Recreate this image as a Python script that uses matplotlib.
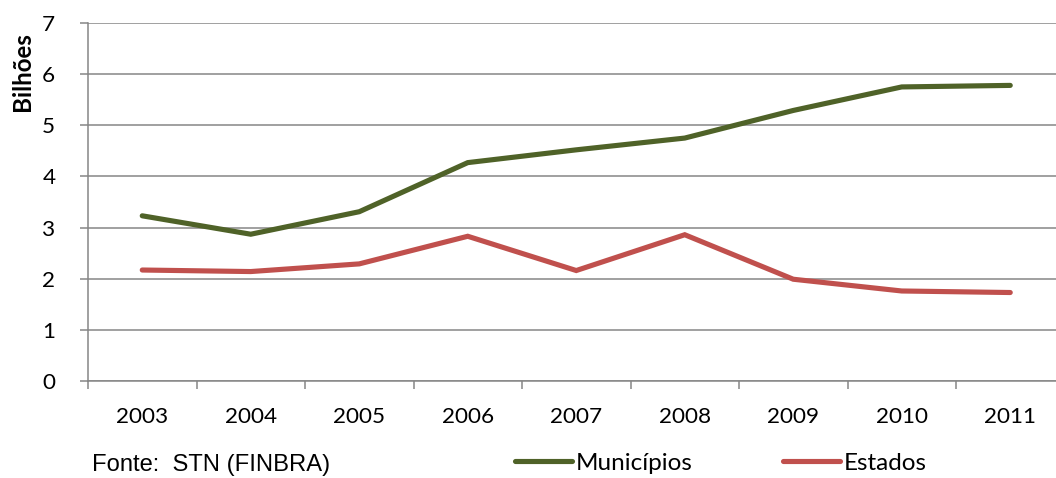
import matplotlib
matplotlib.use("Agg")
import matplotlib.pyplot as plt

# Valores em bilhões
anos = ["2003", "2004", "2005", "2006", "2007", "2008", "2009", "2010", "2011"]
municipios = [3.23, 2.87, 3.31, 4.27, 4.52, 4.75, 5.29, 5.75, 5.78]
estados = [2.17, 2.14, 2.29, 2.83, 2.16, 2.86, 1.99, 1.76, 1.73]

cor_mun = "#4F6228"
cor_est = "#C0504D"
cor_eixo = "#868686"

plt.rcParams['font.family'] = ['Lato', 'DejaVu Sans']

fig = plt.figure(figsize=(10.56, 4.78), dpi=100)
renderer = fig.canvas.get_renderer()


def fit_size(s, largura_px, **kw):
    """Tamanho de fonte para que o texto ocupe largura_px pixels."""
    t = fig.text(0, 0, s, fontsize=20, **kw)
    w = t.get_window_extent(renderer).width
    t.remove()
    return 20 * largura_px / w


tam_ticks = fit_size("2003", 52)
tam_leg = fit_size("Municípios", 117)
tam_ylabel = fit_size("Bilhões", 79, fontweight='bold')
tam_fonte = fit_size("Fonte:  STN (FINBRA)", 237, family='Liberation Sans')

ax = fig.add_axes([88 / 1056, 1 - 381 / 478, 976.5 / 1056, 358 / 478])

x = list(range(len(anos)))
ax.plot(x, municipios, color=cor_mun, lw=3.7, solid_capstyle='round',
        solid_joinstyle='miter', label="Municípios", zorder=3)
ax.plot(x, estados, color=cor_est, lw=3.7, solid_capstyle='round',
        solid_joinstyle='miter', label="Estados", zorder=3)

ax.set_xlim(-0.5, len(anos) - 0.5)
ax.set_ylim(0, 7)
ax.set_yticks(range(0, 8))

# ticks nas divisas das categorias, rótulos no centro
ax.set_xticks([i - 0.5 for i in range(len(anos) + 1)])
ax.set_xticklabels([])
ax.set_xticks(x, minor=True)
ax.set_xticklabels(anos, minor=True)
ax.tick_params(axis='x', which='major', length=5.5, width=1.1, color=cor_eixo, direction='out')
ax.tick_params(axis='x', which='minor', length=0, pad=19, labelsize=tam_ticks)
ax.tick_params(axis='y', length=5.5, width=1.1, color=cor_eixo, pad=18, labelsize=tam_ticks)

ax.grid(axis='y', color=cor_eixo, lw=1.1)
ax.set_axisbelow(True)
for s in ['top', 'right']:
    ax.spines[s].set_visible(False)
for s in ['left', 'bottom']:
    ax.spines[s].set_color(cor_eixo)
    ax.spines[s].set_linewidth(1.1)

fig.text(22 / 1056, 1 - 72 / 478, "Bilhões", rotation=90, ha='center', va='center',
         fontsize=tam_ylabel, fontweight='bold')

fig.text(92 / 1056, 1 - 465 / 478, "Fonte:  STN (FINBRA)", ha='left', va='center',
         fontsize=tam_fonte, family='Liberation Sans')

em = tam_leg * 100 / 72
fig.legend(loc='center left', bbox_to_anchor=(515 / 1056, 1 - 463 / 478), ncol=2,
           frameon=False, fontsize=tam_leg, handlelength=57 / em, handletextpad=4 / em,
           columnspacing=(783 - 576 - 117) / em, borderpad=0, borderaxespad=0)

fig.savefig("out.png", dpi=100)
